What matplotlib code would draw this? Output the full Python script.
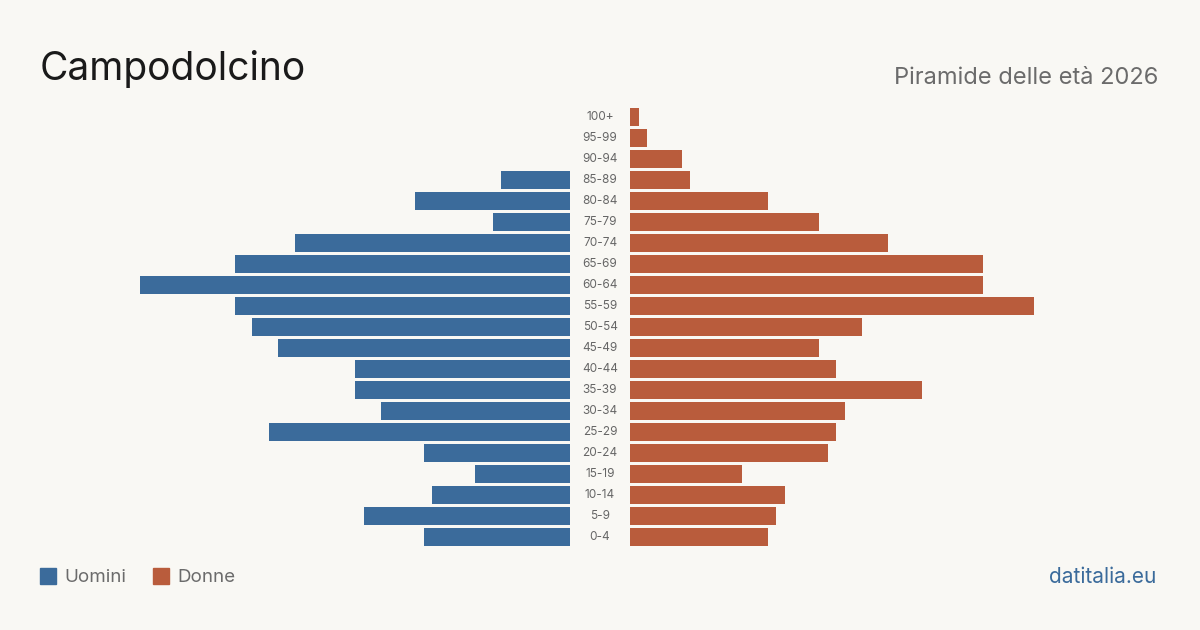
import matplotlib
matplotlib.use('Agg')
import matplotlib.pyplot as plt
from matplotlib.patches import Rectangle

# ── Dati ────────────────────────────────────────────────────────────
age_groups = ['0-4', '5-9', '10-14', '15-19', '20-24', '25-29', '30-34',
              '35-39', '40-44', '45-49', '50-54', '55-59', '60-64', '65-69',
              '70-74', '75-79', '80-84', '85-89', '90-94', '95-99', '100+']
men = [17, 24, 16, 11, 17, 35, 22, 25, 25, 34, 37, 39, 50, 39, 32, 9, 18, 8, 0, 0, 0]
women = [16, 17, 18, 13, 23, 24, 25, 34, 24, 22, 27, 47, 41, 41, 30, 22, 16, 7, 6, 2, 1]

BG = '#f9f8f4'
BLUE = '#3b6b9b'
ORANGE = '#b95c3c'
W, H = 1200, 630

plt.rcParams['font.family'] = ['Inter', 'DejaVu Sans']

fig = plt.figure(figsize=(12, 6.3), dpi=100)
fig.patch.set_facecolor(BG)

# assi: 430 px per lato, 60 px di spazio centrale per le etichette
y_top, y_bot = 106.5, 547.5
bottom = (H - y_bot) / H
height = (y_bot - y_top) / H
ax_m = fig.add_axes([140 / W, bottom, 430 / W, height])
ax_f = fig.add_axes([630 / W, bottom, 430 / W, height])

ypos = list(range(len(age_groups)))
ax_m.barh(ypos, men, height=0.81, color=BLUE)
ax_f.barh(ypos, women, height=0.81, color=ORANGE)

for ax in (ax_m, ax_f):
    ax.set_facecolor('none')
    ax.set_ylim(-0.5, len(age_groups) - 0.5)
    ax.axis('off')
ax_m.set_xlim(50, 0)
ax_f.set_xlim(0, 50)

# etichette età al centro
for i, lab in enumerate(age_groups):
    y = y_bot - 10.5 - i * 21
    fig.text(600 / W, (H - y) / H, lab, ha='center', va='center',
             fontsize=8.5, color='#666666')

# titolo e sottotitolo
fig.text(40 / W, (H - 69) / H, 'Campodolcino', ha='left', va='center',
         fontsize=28, color='#1a1a1a')
fig.text(1158 / W, (H - 77.5) / H, 'Piramide delle età 2026', ha='right',
         va='center', fontsize=17, color='#6b6b6b')

# legenda
for x0, col, lab in [(40, BLUE, 'Uomini'), (153, ORANGE, 'Donne')]:
    fig.patches.append(Rectangle((x0 / W, (H - 584) / H), 16 / W, 16 / H,
                                 transform=fig.transFigure, color=col))
    fig.text((x0 + 24) / W, (H - 577) / H, lab, ha='left', va='center',
             fontsize=13.5, color='#6b6b6b')

fig.text(1156 / W, (H - 577) / H, 'datitalia.eu', ha='right', va='center',
         fontsize=15, color=BLUE)

fig.savefig('out.png', dpi=100, facecolor=BG)
